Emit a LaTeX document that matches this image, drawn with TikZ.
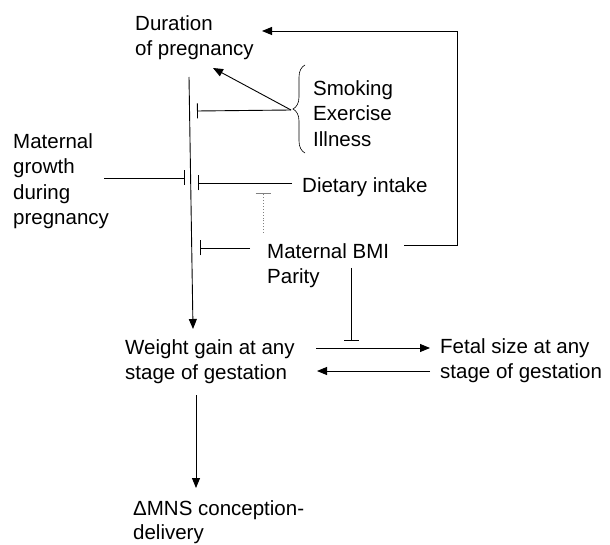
\documentclass[tikz,border=0pt]{standalone}
\usepackage{fontspec}
\setmainfont{Liberation Sans}
\usetikzlibrary{arrows.meta,decorations.pathreplacing}
\begin{document}
\begin{tikzpicture}[x=1pt,y=-1pt,
  lbl/.style={anchor=north west,inner sep=0pt,align=left,font=\fontsize{20.5}{25.5}\selectfont},
  ln/.style={line width=0.9pt},
  arr/.style={ln,-{Triangle[length=10pt,width=8pt]}},
  inh/.style={ln,-{Bar[width=15pt,line width=0.9pt]}}]
\useasboundingbox (0,0) rectangle (610,545);
% text nodes
\node[lbl] (dur) at (135,15) {Duration\\of pregnancy};
\node[lbl] (smk) at (313,80) {Smoking\\Exercise\\Illness};
\node[lbl] (mg) at (13,133) {Maternal\\growth\\during\\pregnancy};
\node[lbl] (diet) at (302,177) {Dietary intake};
\node[lbl] (bmi) at (267,243) {Maternal BMI\\Parity};
\node[lbl] (wg) at (125,339) {Weight gain at any\\stage of gestation};
\node[lbl] (fs) at (440,338) {Fetal size at any\\stage of gestation};
\node[lbl,font=\fontsize{20.5}{24.5}\selectfont] (mns) at (133,500) {ΔMNS conception-\\delivery};
% connector end points
\coordinate (vtop) at (189,77);
\coordinate (vbot) at (193,329);
\coordinate (bmiR) at (404,245);
\coordinate (durR) at (262,31);
\coordinate (br) at (291,110);
\coordinate (durA) at (213,68);
\coordinate (i1) at (197,111);
\coordinate (dietL) at (292,183);
\coordinate (i2) at (198,183);
\coordinate (dotB) at (263,233);
\coordinate (dotT) at (263,193);
\coordinate (mgR) at (104,178);
\coordinate (i3) at (185,178);
\coordinate (bmiL) at (250,248);
\coordinate (i4) at (200,248);
\coordinate (parB) at (351,268);
\coordinate (i5) at (351,341);
\coordinate (wgR) at (316,348);
\coordinate (fsL) at (430,348);
\coordinate (fsL2) at (430,371);
\coordinate (wgR2) at (317,371);
\coordinate (dtop) at (196,395);
\coordinate (dbot) at (196,488);
% connectors
\draw[arr] (vtop) -- (vbot);
\draw[arr] (bmiR) -- ++(53,0) |- (durR);
\draw[line width=0.6pt,decorate,decoration={brace,amplitude=12pt}] (305,153) -- (305,65);
\draw[arr] (br) -- (durA);
\draw[inh] (br) -- (i1);
\draw[inh] (dietL) -- (i2);
\draw[inh,gray,dotted] (dotB) -- (dotT);
\draw[inh] (mgR) -- (i3);
\draw[inh] (bmiL) -- (i4);
\draw[inh] (parB) -- (i5);
\draw[arr] (wgR) -- (fsL);
\draw[arr] (fsL2) -- (wgR2);
\draw[arr] (dtop) -- (dbot);
\end{tikzpicture}
\end{document}
